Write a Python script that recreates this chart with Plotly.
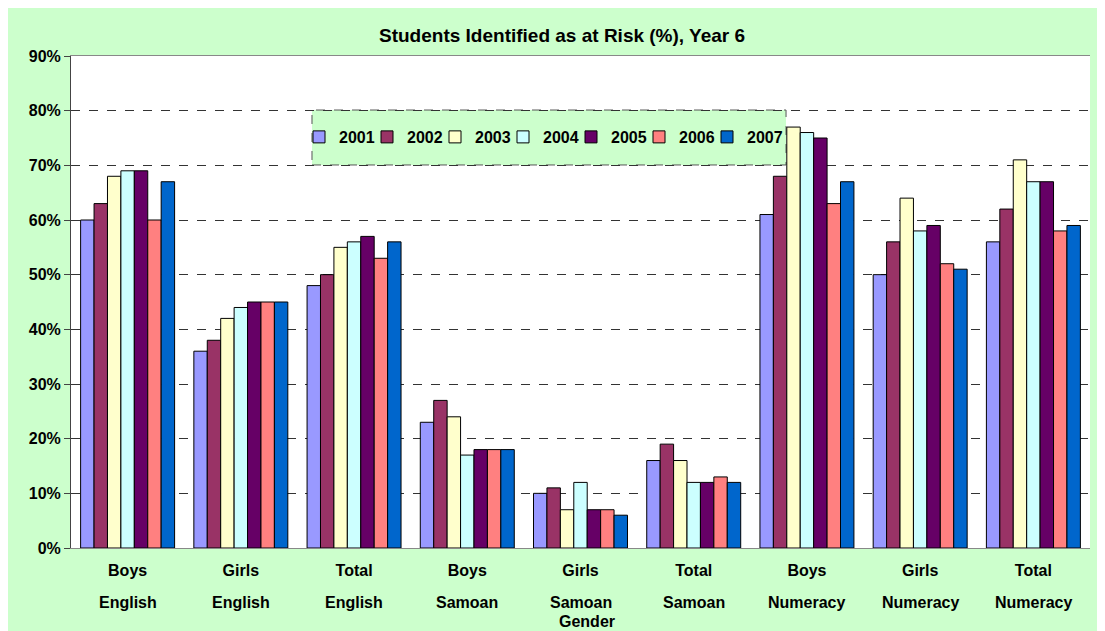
import plotly.graph_objects as go

# Categories (gender on first line, subject on second)
genders = ["Boys", "Girls", "Total", "Boys", "Girls", "Total", "Boys", "Girls", "Total"]
subjects = ["English", "English", "English", "Samoan", "Samoan", "Samoan",
            "Numeracy", "Numeracy", "Numeracy"]
categories = [g + " " + s for g, s in zip(genders, subjects)]

years = ["2001", "2002", "2003", "2004", "2005", "2006", "2007"]

# percent at risk, one list per year
y2001 = [60, 36, 48, 23, 10, 16, 61, 50, 56]
y2002 = [63, 38, 50, 27, 11, 19, 68, 56, 62]
y2003 = [68, 42, 55, 24, 7, 16, 77, 64, 71]
y2004 = [69, 44, 56, 17, 12, 12, 76, 58, 67]
y2005 = [69, 45, 57, 18, 7, 12, 75, 59, 67]
y2006 = [60, 45, 53, 18, 7, 13, 63, 52, 58]
y2007 = [67, 45, 56, 18, 6, 12, 67, 51, 59]
series = [y2001, y2002, y2003, y2004, y2005, y2006, y2007]

colors = ["#9999FF", "#993366", "#FFFFCC", "#CCFFFF", "#660066", "#FF8080", "#0066CC"]

FONT = "Arial, Liberation Sans, sans-serif"
GREEN = "#CCFFCC"
LEG_FONT = dict(family=FONT, size=16, color="black", weight="bold")

# plot area is 1019 px wide starting 63 px in; legend entries 68 px apart
PLOT_W = 1019
LEG_X0 = 228
LEG_STEP = 68

fig = go.Figure()

legends = {}
for i, (year, vals, col) in enumerate(zip(years, series, colors)):
	# one small legend per year so the entries keep Excel's tight spacing
	key = "legend" if i == 0 else "legend%d" % (i + 1)
	fig.add_trace(go.Bar(
		x=categories, y=[v / 100 for v in vals], name=year,
		marker=dict(color=col, line=dict(color="black", width=1)),
		legend=key,
	))
	legends[key] = dict(orientation="h",
		x=(LEG_X0 + LEG_STEP * i) / PLOT_W, y=0.8354,
		xanchor="left", yanchor="middle",
		bgcolor="rgba(0,0,0,0)", itemwidth=30, font=LEG_FONT)

# second line of the category labels
for cat, subj in zip(categories, subjects):
	fig.add_annotation(x=cat, y=0, xref="x", yref="paper",
		text=subj, showarrow=False, yanchor="middle", yshift=-54,
		font=dict(family=FONT, size=16, color="black", weight="bold"))

# axis title under the categories
fig.add_annotation(x=0.506, y=0, xref="paper", yref="paper",
	text="Gender", showarrow=False, yanchor="middle", yshift=-73,
	font=dict(family=FONT, size=16, color="black", weight="bold"))

# dashed legend box
fig.add_shape(type="rect", xref="paper", yref="paper",
	x0=0.2365, x1=0.7017, y0=0.7785, y1=0.8902,
	fillcolor=GREEN, line=dict(color="#555555", width=1, dash="dash"),
	layer="below")

fig.update_layout(
	width=1105, height=631,
	margin=dict(l=63, r=23, t=48, b=91),
	paper_bgcolor=GREEN, plot_bgcolor="white",
	barmode="group", bargap=0.17, bargroupgap=0,
	title=dict(text="Students Identified as at Risk (%), Year 6",
		x=0.5014, xanchor="center", y=0.9572, yanchor="middle",
		font=dict(family=FONT, size=19, color="black", weight="bold")),
	showlegend=True,
	**legends,
)

fig.update_xaxes(
	tickvals=categories, ticktext=genders,
	tickfont=dict(family=FONT, size=16, color="black", weight="bold"),
	showline=True, linecolor="#888888", linewidth=1, mirror=True,
	ticks="", ticklabelstandoff=8,
)

fig.update_yaxes(
	range=[0, 0.9], dtick=0.1, tickformat=".0%",
	tickfont=dict(family=FONT, size=16, color="black", weight="bold"),
	showgrid=True, gridcolor="#333333", griddash="dash", gridwidth=1,
	showline=True, linecolor="#444444", linewidth=1,
	ticks="outside", ticklen=6, tickcolor="#444444",
	zeroline=False,
)

fig.write_html("out.html")
